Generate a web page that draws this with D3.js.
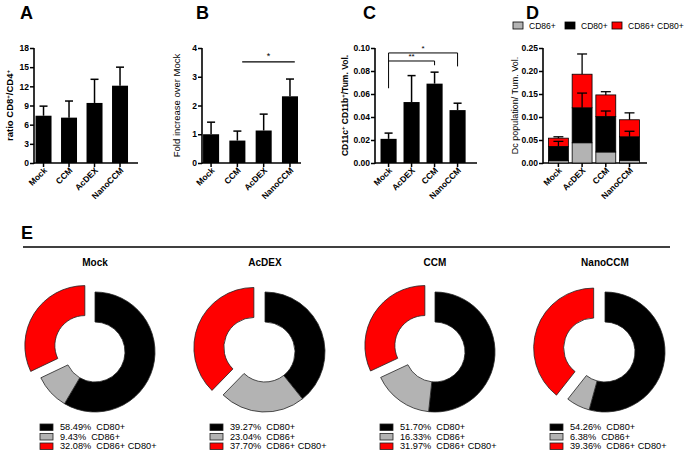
<!DOCTYPE html>
<html><head><meta charset="utf-8">
<script src="https://cdn.jsdelivr.net/npm/d3@7"></script>
<style>
body{margin:0;background:#fff;}
svg{font-family:"Liberation Sans",Arial,sans-serif;}
</style></head>
<body><svg id="c" width="691" height="458"></svg>
<script>
// ---------- DATA ----------
const catsA = ["Mock","CCM","AcDEX","NanoCCM"];
const valsA = [7.4, 7.1, 9.4, 12.1];
const errA  = [1.5, 2.6, 3.7, 2.9];
const ticksA = [0,3,6,9,12,15,18];

const catsB = ["Mock","CCM","AcDEX","NanoCCM"];
const valsB = [1.0, 0.78, 1.13, 2.32];
const errB  = [0.42, 0.33, 0.57, 0.6];
const ticksB = [0,1,2,3,4];

const catsC = ["Mock","AcDEX","CCM","NanoCCM"];
const valsC = [0.021, 0.053, 0.069, 0.046];
const errC  = [0.005, 0.023, 0.010, 0.006];
const ticksC = [0,0.02,0.04,0.06,0.08,0.10];

const catsD = ["Mock","AcDEX","CCM","NanoCCM"];
const grayD  = [0.005, 0.044, 0.024, 0.006];
const blackD = [0.031, 0.076, 0.077, 0.051];
const redD   = [0.018, 0.073, 0.047, 0.037];
const errBlackD = [0.011, 0.032, 0.012, 0.012];
const errRedD   = [0.003, 0.044, 0.007, 0.015];
const ticksD = [0,0.05,0.10,0.15,0.20,0.25];
const seriesD = ["CD86+","CD80+","CD86+ CD80+"];
const colorsD = ["#b3b3b3","#000000","#ff0000"];

const groupsE = ["Mock","AcDEX","CCM","NanoCCM"];
const cd80E = [58.49, 39.27, 51.70, 54.26];
const cd86E = [9.43, 23.04, 16.33, 6.38];
const bothE = [32.08, 37.70, 31.97, 39.36];

// ---------- DRAW ----------
const svg = d3.select("#c");
const Y0 = 163, Y1 = 48;

function panel(o){
  const g = svg.append("g");
  const x = d3.scaleBand().domain(o.cats).range([o.ax, o.ax + o.step*(o.cats.length - o.pi + 2*o.po)])
    .paddingInner(o.pi).paddingOuter(o.po);
  const y = d3.scaleLinear().domain([0, o.max]).range([Y0, Y1]);
  const ya = g.append("g").attr("transform",`translate(${o.ax},0)`)
    .call(d3.axisLeft(y).tickValues(o.ticks).tickSize(4).tickSizeOuter(0).tickFormat(o.fmt));
  ya.select(".domain").remove();
  ya.selectAll("line").attr("stroke","#000").attr("stroke-width",1.5);
  ya.selectAll("text").attr("font-size",8.5).attr("font-weight","bold").attr("fill","#000").attr("x",-5);
  g.append("line").attr("x1",o.ax).attr("x2",o.ax).attr("y1",Y0+0.75).attr("y2",Y1)
    .attr("stroke","#000").attr("stroke-width",1.6);
  const xa = g.append("g").attr("transform",`translate(0,${Y0})`)
    .call(d3.axisBottom(x).tickSize(4).tickSizeOuter(0));
  xa.select(".domain").remove();
  xa.selectAll("line").attr("stroke","#000").attr("stroke-width",1.5);
  xa.selectAll("text").attr("font-size",8.5).attr("font-weight","bold").attr("fill","#000")
    .attr("text-anchor","end").attr("dy",0).attr("y",0)
    .attr("transform","translate(4,8) rotate(-45)");
  g.append("line").attr("x1",o.ax).attr("x2",o.axEnd).attr("y1",Y0).attr("y2",Y0)
    .attr("stroke","#000").attr("stroke-width",1.6);
  g.append("text").attr("x",o.letterX).attr("y",19).attr("font-size",18).attr("font-weight","bold").text(o.letter);
  const yl = g.append("text").attr("transform",`translate(${o.labX},${(Y0+Y1)/2}) rotate(-90)`)
    .attr("text-anchor","middle").attr("font-size",o.labSize||9).attr("font-weight",o.labBold?"bold":"normal");
  o.label.forEach(p=>{
    const t = yl.append("tspan").text(p[0]);
    if(p[1]) t.attr("baseline-shift","super").attr("font-size",6);
  });
  return {g,x,y};
}

function simpleBars(o, vals, errs){
  const {g,x,y} = panel(o);
  const bw = x.bandwidth();
  o.cats.forEach((c,i)=>{
    const cx = x(c)+bw/2, top = y(vals[i]), et = y(vals[i]+errs[i]);
    g.append("line").attr("x1",cx).attr("x2",cx).attr("y1",top).attr("y2",et).attr("stroke","#000").attr("stroke-width",1.5);
    g.append("line").attr("x1",cx-bw/4).attr("x2",cx+bw/4).attr("y1",et).attr("y2",et).attr("stroke","#000").attr("stroke-width",1.5);
    g.append("rect").attr("x",x(c)).attr("y",top).attr("width",bw).attr("height",Y0-top).attr("fill","#000");
  });
  return {g,x,y};
}

// Panel A
simpleBars({cats:catsA, ax:34, axEnd:138, step:25.5, pi:0.373, po:0.06, max:18, ticks:ticksA,
  fmt:d3.format("d"), letter:"A", letterX:20, labX:13, labBold:true, labSize:9.5,
  label:[["ratio  CD8"],["+",1],["/CD4"],["+",1]]}, valsA, errA);

// Panel B
{
  const r = simpleBars({cats:catsB, ax:202, axEnd:301, step:26.3, pi:0.39, po:0.04, max:4, ticks:ticksB,
    fmt:d3.format("d"), letter:"B", letterX:196, labX:180, labBold:false, labSize:9.5,
    label:[["Fold increase over Mock"]]}, valsB, errB);
  const bw = r.x.bandwidth();
  const xa = r.x("CCM")+bw*0.8, xb = r.x("NanoCCM")+bw*0.8, yy = r.y(3.52);
  r.g.append("line").attr("x1",xa).attr("x2",xb).attr("y1",yy).attr("y2",yy).attr("stroke","#000").attr("stroke-width",1.2);
  r.g.append("text").attr("x",(xa+xb)/2).attr("y",yy-3).attr("text-anchor","middle").attr("font-size",9).text("*");
}

// Panel C
{
  const r = simpleBars({cats:catsC, ax:375, axEnd:477, step:23, pi:0.30, po:0.24, max:0.10, ticks:ticksC,
    fmt:d3.format(".2f"), letter:"C", letterX:363, labX:348, labBold:true, labSize:8.5,
    label:[["CD11c"],["+",1],[" CD11b"],["+",1],["/Tum. Vol."]]}, valsC, errC);
  const bw = r.x.bandwidth(), cx = c=>r.x(c)+bw/2;
  const yo = r.y(0.0957), yi = r.y(0.0887);
  const path = (pts)=>r.g.append("path").attr("d",d3.line()(pts)).attr("fill","none").attr("stroke","#000").attr("stroke-width",1);
  path([[cx("Mock"),r.y(0.065)],[cx("Mock"),yo],[cx("NanoCCM"),yo],[cx("NanoCCM"),r.y(0.084)]]);
  path([[cx("Mock"),yi],[cx("CCM"),yi],[cx("CCM"),r.y(0.085)]]);
  r.g.append("text").attr("x",(cx("Mock")+cx("NanoCCM"))/2).attr("y",yo-2).attr("text-anchor","middle").attr("font-size",8).text("*");
  r.g.append("text").attr("x",(cx("Mock")+cx("CCM"))/2).attr("y",yi-2).attr("text-anchor","middle").attr("font-size",8).text("**");
}

// Panel D
{
  const r = panel({cats:catsD, ax:543, axEnd:647, step:23.7, pi:0.16, po:0.23, max:0.25, ticks:ticksD,
    fmt:d3.format(".2f"), letter:"D", letterX:526, labX:518, labBold:false, labSize:9,
    label:[["Dc population/ Tum. Vol."]]});
  const {g,x,y} = r, bw = x.bandwidth();
  const segs = [grayD, blackD, redD];
  const errs = [null, errBlackD, errRedD];
  catsD.forEach((c,i)=>{
    let base = 0;
    const cx = x(c)+bw/2;
    segs.forEach((s,k)=>{
      const top = base + s[i];
      g.append("rect").attr("x",x(c)).attr("y",y(top)).attr("width",bw).attr("height",y(base)-y(top))
        .attr("fill",colorsD[k]).attr("stroke","#000").attr("stroke-width",0.8);
      base = top;
    });
    base = 0;
    segs.forEach((s,k)=>{
      const top = base + s[i];
      if(errs[k]){
        const et = y(top+errs[k][i]);
        g.append("line").attr("x1",cx).attr("x2",cx).attr("y1",y(top)).attr("y2",et).attr("stroke","#000").attr("stroke-width",1.3);
        g.append("line").attr("x1",cx-bw/4).attr("x2",cx+bw/4).attr("y1",et).attr("y2",et).attr("stroke","#000").attr("stroke-width",1.3);
      }
      base = top;
    });
  });
  const lx = [513, 565, 612];
  seriesD.forEach((s,k)=>{
    g.append("rect").attr("x",lx[k]).attr("y",22).attr("width",10).attr("height",7)
      .attr("fill",colorsD[k]).attr("stroke","#000").attr("stroke-width",0.8);
    g.append("text").attr("x",lx[k]+16).attr("y",28.5).attr("font-size",8.5).text(s);
  });
}

// Panel E
svg.append("text").attr("x",21).attr("y",239).attr("font-size",18).attr("font-weight","bold").text("E");
svg.append("line").attr("x1",23).attr("x2",670).attr("y1",247).attr("y2",247).attr("stroke","#000").attr("stroke-width",1.5);

const centersE = d3.scalePoint().domain(groupsE).range([95, 605]);
const pie = d3.pie().sort(null).value(d=>d.v);
const arc = d3.arc().innerRadius(30).outerRadius(60);
const donutColors = ["#000000","#b3b3b3","#ff0000"];
const donutNames = ["CD80+","CD86+","CD86+ CD80+"];
groupsE.forEach((gname,i)=>{
  const cx = centersE(gname), cy = 352;
  const g = svg.append("g").attr("transform",`translate(${cx},${cy})`);
  svg.append("text").attr("x",cx).attr("y",266).attr("text-anchor","middle").attr("font-size",10)
    .attr("font-weight","bold").text(gname);
  const vals = [cd80E[i], cd86E[i], bothE[i]];
  const arcs = pie(vals.map((v,k)=>({v,k})));
  arcs.forEach(a=>{
    let tx=0, ty=0;
    if(a.data.k===2){
      const m = (a.startAngle+a.endAngle)/2;
      tx = Math.sin(m)*12; ty = -Math.cos(m)*12;
    }
    g.append("path").attr("d",arc(a)).attr("transform",`translate(${tx},${ty})`)
      .attr("fill",donutColors[a.data.k]).attr("stroke","#222").attr("stroke-width",0.8);
  });
  const lg = svg.append("g").attr("transform",`translate(${cx-55},0)`);
  vals.forEach((v,k)=>{
    const yy = 427 + k*9.5;
    lg.append("rect").attr("x",0).attr("y",yy-3).attr("width",13).attr("height",6.5)
      .attr("fill",donutColors[k]).attr("stroke","#222").attr("stroke-width",0.8);
    lg.append("text").attr("x",20).attr("y",yy+3.3).attr("font-size",9.2).style("white-space","pre")
      .text(d3.format(".2f")(v)+"%  "+donutNames[k]);
  });
});
</script></body></html>
